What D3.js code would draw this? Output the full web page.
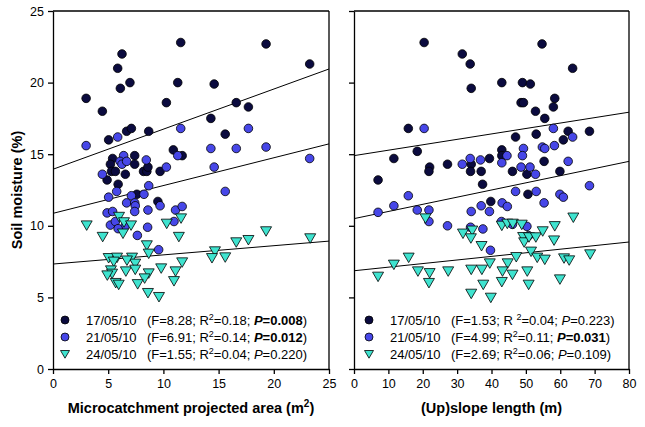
<!DOCTYPE html>
<html><head><meta charset="utf-8">
<script src="https://cdn.jsdelivr.net/npm/d3@7"></script>
<style>body{margin:0;background:#fff}svg{display:block}text{font-family:Arial,"Liberation Sans",sans-serif}</style>
</head><body><svg id="c" width="645" height="427"></svg>
<script>
const seriesNames = ["17/05/10","21/05/10","24/05/10"];
const leftA = [[3.0,18.9],[4.47,18.0],[5.04,16.0],[5.86,21.0],[6.25,22.0],[6.1,19.6],[6.97,20.0],[6.67,16.6],[7.1,16.8],[8.67,16.6],[11.57,22.8],[11.3,20.0],[14.6,19.9],[19.3,22.7],[23.25,21.3],[10.27,18.6],[16.6,18.6],[17.7,18.3],[14.3,17.5],[15.6,16.4],[10.9,15.3],[11.7,14.9],[5.4,14.7],[5.2,14.3],[7.4,14.9],[7.4,14.3],[6.55,13.6],[5.3,13.8],[5.65,13.8],[8.2,13.8],[8.5,13.8],[8.6,14.1],[9.7,13.8],[4.9,13.2],[5.9,12.9],[7.6,12.2],[9.5,11.7]];
const leftB = [[3.0,15.6],[5.86,16.2],[11.57,16.8],[17.7,16.8],[14.3,15.4],[16.6,15.4],[19.3,15.5],[23.25,14.7],[6.4,14.9],[6.07,14.5],[6.25,14.3],[6.67,14.5],[8.45,14.6],[10.27,14.1],[11.3,14.9],[14.6,14.1],[4.47,13.6],[8.67,12.8],[15.6,12.4],[5.04,12.0],[5.77,12.4],[7.1,12.1],[8.24,12.2],[6.67,11.6],[7.4,11.6],[7.45,11.4],[7.4,11.0],[4.9,10.9],[5.4,11.0],[8.6,11.1],[9.7,11.4],[11.1,11.1],[11.7,11.35],[10.96,10.3],[5.2,10.05],[5.65,10.3],[6.55,10.0],[5.9,9.8],[8.57,9.9],[7.64,9.33],[9.57,8.33]];
const leftC = [[3.05,10.05],[4.5,9.25],[5.98,10.65],[6.43,10.27],[6.34,9.48],[7.07,10.05],[8.5,8.66],[8.67,8.08],[10.3,10.17],[11.6,10.54],[11.4,9.25],[11.7,7.47],[14.67,8.24],[14.4,7.77],[15.6,7.82],[16.6,8.87],[17.7,9.03],[19.3,9.64],[23.3,9.15],[5.04,7.77],[5.8,7.8],[5.5,7.52],[7.16,7.8],[7.45,7.38],[6.7,7.6],[9.8,7.05],[5.25,6.91],[5.35,6.68],[4.92,6.56],[6.6,6.84],[7.45,6.96],[8.67,6.7],[11.1,6.84],[8.3,6.35],[10.96,6.16],[5.68,6.03],[5.95,5.91],[7.67,5.95],[8.6,5.33],[9.6,5.05]];
const rightA = [[20.4,22.8],[31.5,22.0],[33.8,21.3],[54.7,22.7],[63.6,21.0],[34.1,19.6],[43.0,20.0],[49.0,20.0],[51.3,19.9],[48.6,18.6],[49.3,18.6],[58.4,18.9],[58.0,18.3],[52.8,18.0],[55.5,17.5],[15.8,16.8],[62.3,16.6],[68.5,16.6],[60.9,16.0],[47.0,16.2],[53.0,16.4],[18.4,15.2],[43.0,15.3],[43.0,14.9],[11.6,14.7],[39.4,14.7],[22.0,14.1],[21.8,13.8],[27.2,14.3],[34.1,14.3],[33.9,13.8],[37.0,13.8],[46.1,13.8],[55.3,14.5],[50.3,13.6],[59.9,13.8],[7.0,13.2],[37.4,12.9],[50.6,12.2],[39.8,11.7]];
const rightB = [[20.4,16.8],[58.0,16.8],[63.6,16.2],[49.3,15.4],[54.8,15.5],[55.5,15.4],[58.3,15.6],[44.5,14.9],[49.0,14.9],[43.0,14.4],[33.8,14.7],[36.8,14.6],[31.5,14.3],[48.6,14.1],[51.2,14.1],[62.3,14.5],[52.8,13.6],[68.5,12.8],[15.8,12.1],[47.0,12.4],[53.0,12.4],[59.9,12.2],[60.9,12.0],[7.0,10.94],[11.6,11.4],[18.4,11.1],[21.8,11.1],[21.8,10.3],[27.2,10.0],[34.1,11.0],[37.0,11.4],[39.4,11.0],[43.1,11.6],[44.6,11.35],[55.3,11.6],[33.9,9.9],[37.5,9.78],[42.9,10.3],[46.1,10.1],[50.3,9.96],[50.8,9.31],[39.7,8.29]];
const rightC = [[7.0,6.47],[11.6,7.31],[15.9,7.8],[18.6,6.84],[22.0,6.72],[21.8,6.03],[27.4,6.84],[20.8,10.54],[31.7,9.48],[34.4,9.69],[34.0,9.15],[37.1,8.61],[34.1,6.96],[37.2,6.96],[34.1,5.28],[37.6,5.91],[39.5,7.4],[39.8,5.0],[43.0,10.03],[44.6,10.17],[46.2,10.17],[48.8,10.1],[49.2,9.24],[49.5,8.87],[50.9,9.22],[51.5,8.22],[52.9,9.22],[54.9,9.64],[58.4,10.0],[58.2,9.0],[63.8,10.6],[47.2,7.84],[44.7,7.4],[43.2,6.84],[46.1,6.61],[50.4,6.84],[50.8,5.91],[43.0,6.1],[53.3,7.8],[55.5,7.66],[61.1,7.75],[62.6,7.61],[68.7,8.03],[59.9,6.28]];
// regression lines: [intercept, slope]
const leftLines = [[13.95,0.28],[10.87,0.194],[7.33,0.064]];
const rightLines = [[14.9,0.0379],[10.5,0.05],[6.86,0.0251]];
const yTicks = [0,5,10,15,20,25];
const leftXTicks = [0,5,10,15,20,25];
const rightXTicks = [0,10,20,30,40,50,60,70,80];
// legend stats: [F, R2, P, bold]
const leftStats = [["8.28","0.18","0.008",true],["6.91","0.14","0.012",true],["1.55","0.04","0.220",false]];
const rightStats = [["1.53","0.04","0.223",false],["4.99","0.11","0.031",true],["2.69","0.06","0.109",false]];

const fills = ["#0b0b3f","#4747e8","#3fe3cf"];
const svg = d3.select("#c");
const y = d3.scaleLinear().domain([0,25]).range([369,11]);

function panel(xDomain, xRange, xTicks, sets, lines, stats, showYLabels, title, legX, spaceR){
  const x = d3.scaleLinear().domain(xDomain).range(xRange);
  const g = svg.append("g");
  // axes
  const ax = g.append("g").attr("transform","translate(0,369)")
    .call(d3.axisBottom(x).tickValues(xTicks).tickSize(5).tickSizeOuter(0).tickFormat(d3.format("d")));
  const ay = g.append("g").attr("transform",`translate(${xRange[0]},0)`)
    .call(d3.axisLeft(y).tickValues(yTicks).tickSize(5).tickSizeOuter(0).tickFormat(showYLabels?d3.format("d"):""));
  [ax,ay].forEach(a=>{a.selectAll("path,line").attr("stroke","#000").attr("stroke-width",1.3);
    a.selectAll("text").attr("font-size",12.5).attr("fill","#000").attr("font-family","Arial, Liberation Sans");});
  ax.selectAll("text").attr("dy","0.9em").attr("y",8);
  ay.selectAll("text").attr("x",-9);
  // frame top/right
  g.append("line").attr("x1",x.range()[0]).attr("x2",x.range()[1]).attr("y1",y(25)).attr("y2",y(25)).attr("stroke","#000").attr("stroke-width",1.3);
  g.append("line").attr("x1",x.range()[1]).attr("x2",x.range()[1]).attr("y1",y(25)).attr("y2",y(0)).attr("stroke","#000").attr("stroke-width",1.3);
  // regression lines
  lines.forEach(l=>{
    g.append("line").attr("x1",x(xDomain[0])).attr("y1",y(l[0]+l[1]*xDomain[0]))
      .attr("x2",x(xDomain[1])).attr("y2",y(l[0]+l[1]*xDomain[1])).attr("stroke","#000").attr("stroke-width",1);
  });
  // points
  const tri = "M-5.5,-4.2L5.5,-4.2L0,5.3Z";
  sets.forEach((s,i)=>{
    if(i<2){
      g.selectAll(null).data(s).enter().append("circle")
        .attr("cx",d=>x(d[0])).attr("cy",d=>y(d[1])).attr("r",4.3)
        .attr("fill",fills[i]).attr("stroke","#000").attr("stroke-width",0.8);
    } else {
      g.selectAll(null).data(s).enter().append("path")
        .attr("d",tri).attr("transform",d=>`translate(${x(d[0])},${y(d[1])})`)
        .attr("fill",fills[i]).attr("stroke","#000").attr("stroke-width",0.8);
    }
  });
  // legend
  const rows=[320,337,354];
  stats.forEach((st,i)=>{
    const ly = rows[i];
    if(i<2) g.append("circle").attr("cx",legX).attr("cy",ly).attr("r",4).attr("fill",fills[i]).attr("stroke","#000").attr("stroke-width",0.8);
    else g.append("path").attr("d","M-4.5,-3.5L4.5,-3.5L0,4.2Z").attr("transform",`translate(${legX},${ly})`).attr("fill",fills[i]).attr("stroke","#000").attr("stroke-width",0.8);
    const t = g.append("text").attr("x",legX+21).attr("y",ly+4.5).attr("font-size",13).attr("fill","#000");
    t.append("tspan").text(seriesNames[i]);
    t.append("tspan").attr("x",legX+82).text(`(F=${st[0]}; R${spaceR&&i===0?" ":""}`);
    t.append("tspan").attr("font-size",9).attr("dy",-5).text("2");
    t.append("tspan").attr("dy",5).text(`=${st[1]}; `);
    t.append("tspan").attr("font-style","italic").attr("font-weight",st[3]?"bold":"normal").text("P");
    t.append("tspan").attr("font-weight",st[3]?"bold":"normal").text(`=${st[2]}`);
    t.append("tspan").text(")");
  });
  // x title
  return {x,g};
}

const L = panel([0,25],[53,329],leftXTicks,[leftA,leftB,leftC],leftLines,leftStats,true,null,65,false);
const R = panel([0,80],[354,629],rightXTicks,[rightA,rightB,rightC],rightLines,rightStats,false,null,369,true);

// titles
const tl = svg.append("text").attr("x",191).attr("y",413).attr("text-anchor","middle").attr("font-size",14.5).attr("font-weight","bold");
tl.append("tspan").text("Microcatchment projected area (m");
tl.append("tspan").attr("font-size",10).attr("dy",-6).text("2");
tl.append("tspan").attr("dy",6).text(")");
svg.append("text").attr("x",491.5).attr("y",413).attr("text-anchor","middle").attr("font-size",14.5).attr("font-weight","bold").text("(Up)slope length (m)");
svg.append("text").attr("transform","translate(22,190) rotate(-90)").attr("text-anchor","middle").attr("font-size",14.5).attr("font-weight","bold").text("Soil moisture (%)");
</script></body></html>
